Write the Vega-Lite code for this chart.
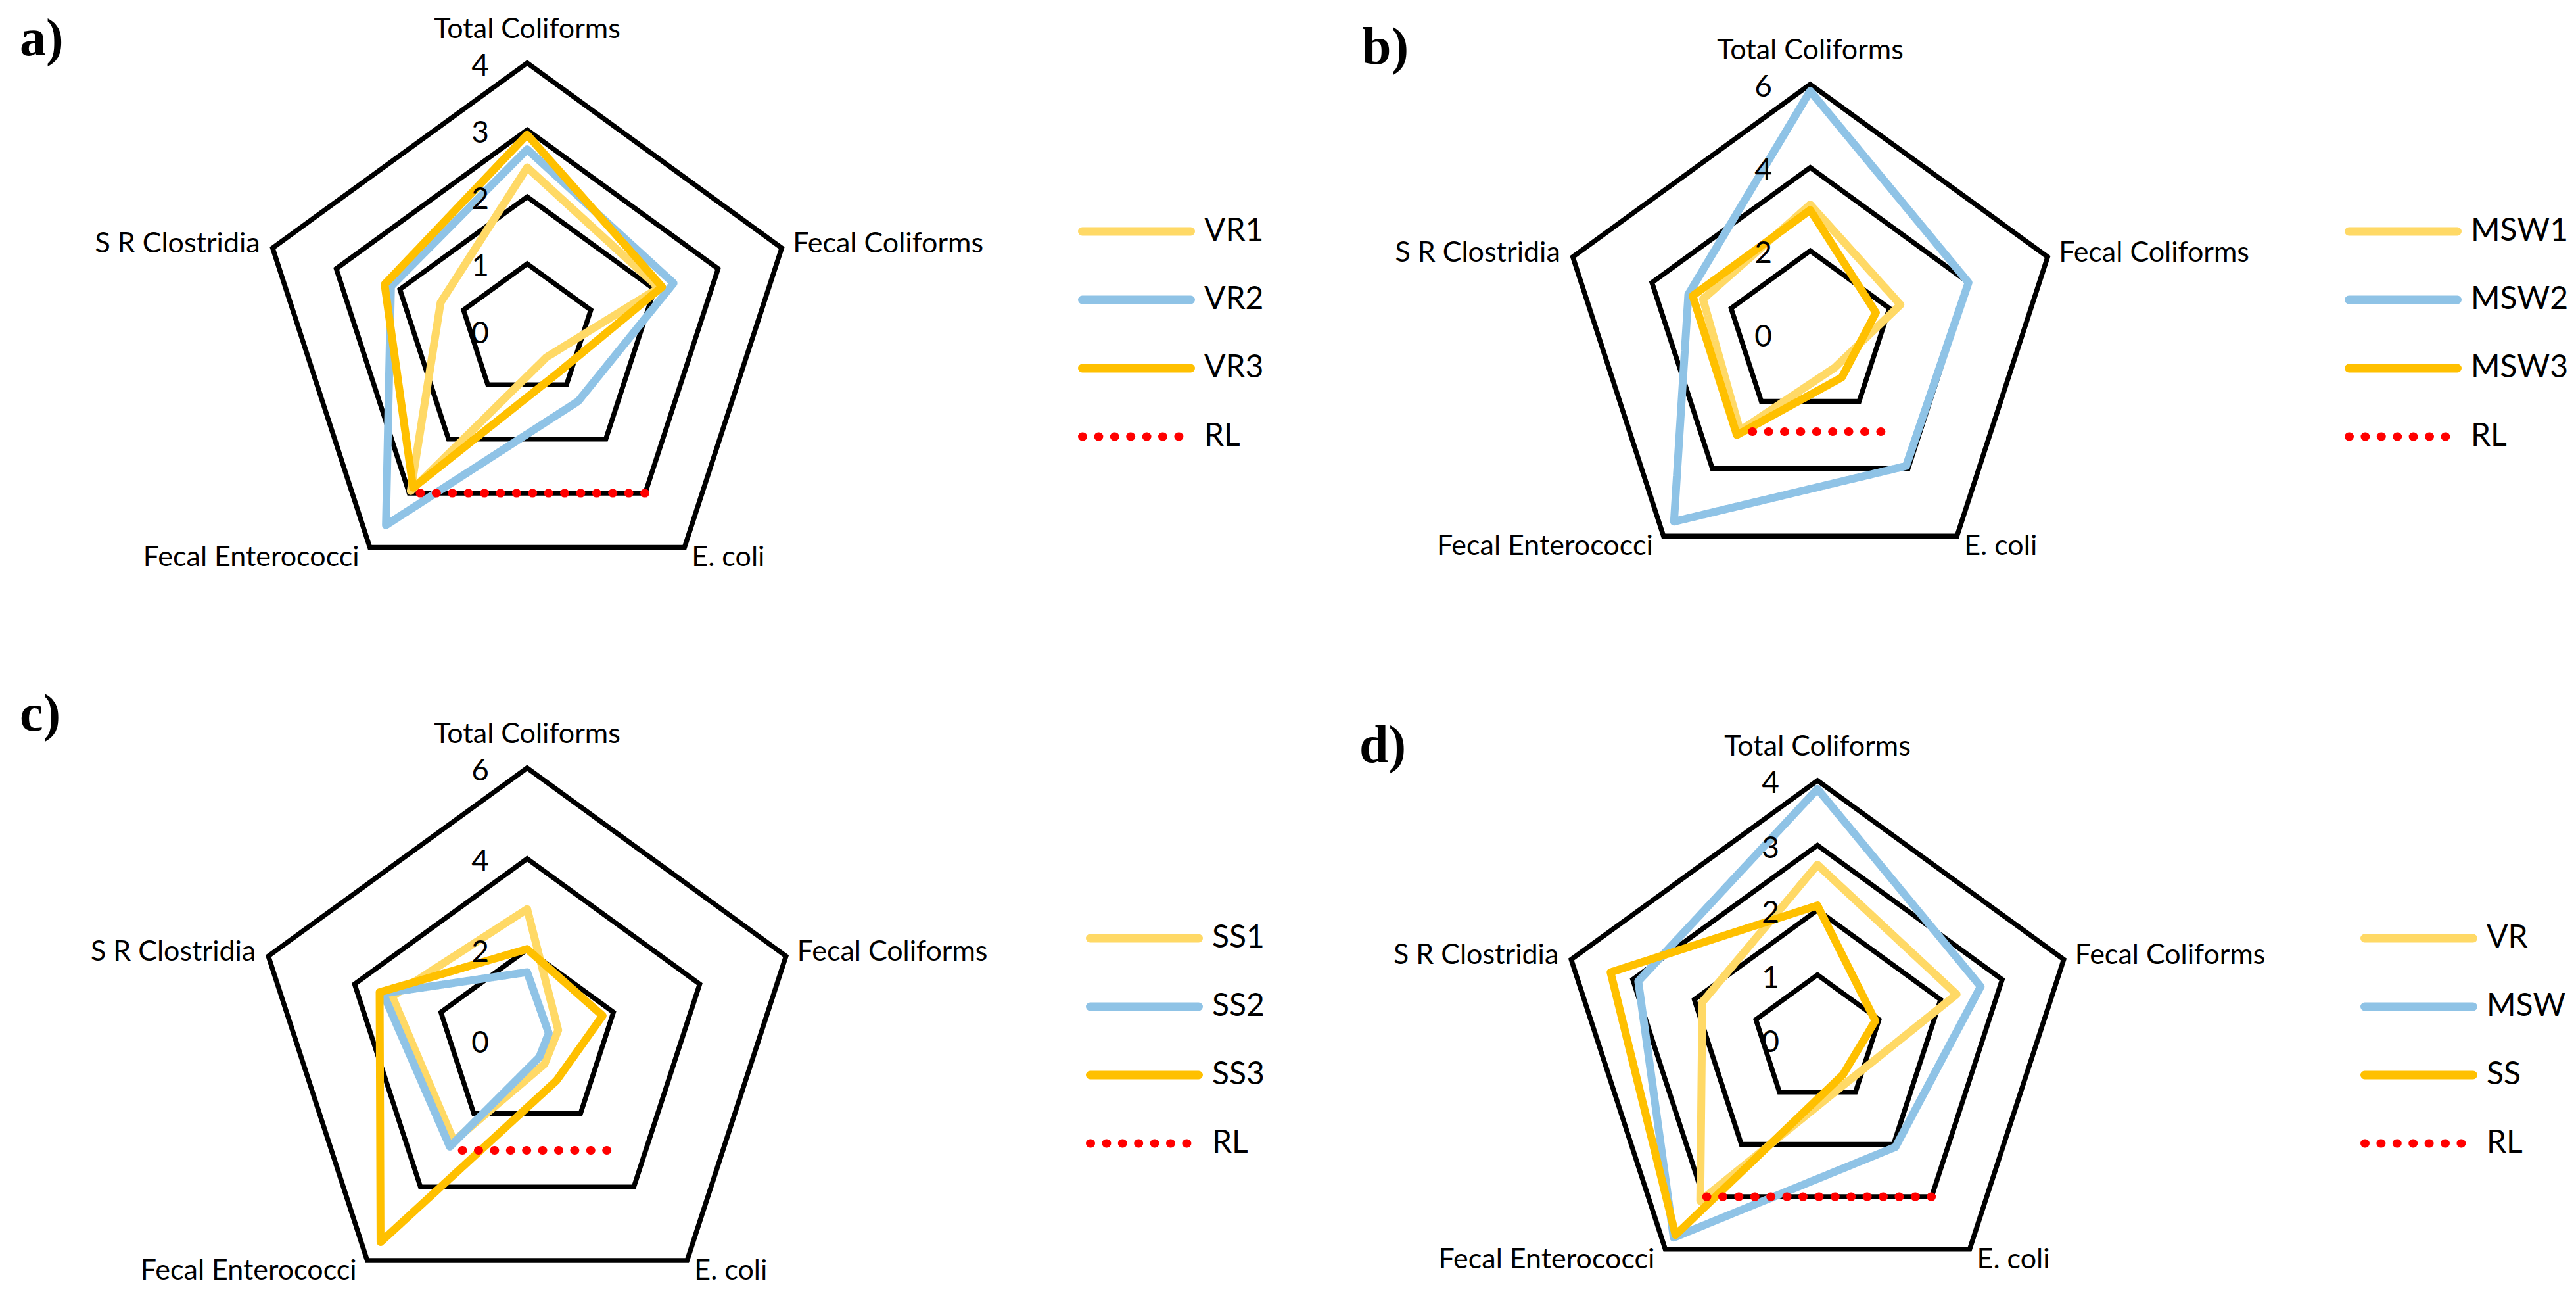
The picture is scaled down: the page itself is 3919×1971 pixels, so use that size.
{
  "$schema": "https://vega.github.io/schema/vega-lite/v6.json",
  "padding": 0,
  "spacing": 0,
  "columns": 2,
  "bounds": "flush",
  "config": {
    "view": {"stroke": null},
    "font": "Lato",
    "legend": {
      "symbolType": "stroke",
      "symbolSize": 27225,
      "symbolStrokeWidth": 13,
      "labelFontSize": 48,
      "labelFont": "Lato",
      "labelColor": "#000000",
      "labelOffset": 14,
      "clipHeight": 48,
      "rowPadding": 56,
      "padding": 0
    }
  },
  "datasets": {
    "grid": [
      {"v": 1, "cat": "Total Coliforms"}, {"v": 1, "cat": "Fecal Coliforms"}, {"v": 1, "cat": "E. coli"}, {"v": 1, "cat": "Fecal Enterococci"}, {"v": 1, "cat": "S R Clostridia"},
      {"v": 2, "cat": "Total Coliforms"}, {"v": 2, "cat": "Fecal Coliforms"}, {"v": 2, "cat": "E. coli"}, {"v": 2, "cat": "Fecal Enterococci"}, {"v": 2, "cat": "S R Clostridia"},
      {"v": 3, "cat": "Total Coliforms"}, {"v": 3, "cat": "Fecal Coliforms"}, {"v": 3, "cat": "E. coli"}, {"v": 3, "cat": "Fecal Enterococci"}, {"v": 3, "cat": "S R Clostridia"},
      {"v": 4, "cat": "Total Coliforms"}, {"v": 4, "cat": "Fecal Coliforms"}, {"v": 4, "cat": "E. coli"}, {"v": 4, "cat": "Fecal Enterococci"}, {"v": 4, "cat": "S R Clostridia"},
      {"v": 6, "cat": "Total Coliforms"}, {"v": 6, "cat": "Fecal Coliforms"}, {"v": 6, "cat": "E. coli"}, {"v": 6, "cat": "Fecal Enterococci"}, {"v": 6, "cat": "S R Clostridia"}
    ],
    "ticks": [
      {"v": 0, "cat": "Total Coliforms"}, {"v": 1, "cat": "Total Coliforms"}, {"v": 2, "cat": "Total Coliforms"}, {"v": 3, "cat": "Total Coliforms"}, {"v": 4, "cat": "Total Coliforms"}, {"v": 6, "cat": "Total Coliforms"}
    ],
    "cats": [
      {"cat": "Total Coliforms"}, {"cat": "Fecal Coliforms"}, {"cat": "E. coli"}, {"cat": "Fecal Enterococci"}, {"cat": "S R Clostridia"}
    ],
    "a": [
      {"s": "VR1", "cat": "Total Coliforms", "v": 2.44}, {"s": "VR1", "cat": "Fecal Coliforms", "v": 2.07}, {"s": "VR1", "cat": "E. coli", "v": 0.49}, {"s": "VR1", "cat": "Fecal Enterococci", "v": 2.96}, {"s": "VR1", "cat": "S R Clostridia", "v": 1.36},
      {"s": "VR2", "cat": "Total Coliforms", "v": 2.71}, {"s": "VR2", "cat": "Fecal Coliforms", "v": 2.30}, {"s": "VR2", "cat": "E. coli", "v": 1.30}, {"s": "VR2", "cat": "Fecal Enterococci", "v": 3.59}, {"s": "VR2", "cat": "S R Clostridia", "v": 2.14},
      {"s": "VR3", "cat": "Total Coliforms", "v": 2.93}, {"s": "VR3", "cat": "Fecal Coliforms", "v": 2.12}, {"s": "VR3", "cat": "E. coli", "v": 0.78}, {"s": "VR3", "cat": "Fecal Enterococci", "v": 2.90}, {"s": "VR3", "cat": "S R Clostridia", "v": 2.24},
      {"s": "RL", "cat": "E. coli", "v": 3}, {"s": "RL", "cat": "Fecal Enterococci", "v": 3}
    ],
    "b": [
      {"s": "MSW1", "cat": "Total Coliforms", "v": 3.11}, {"s": "MSW1", "cat": "Fecal Coliforms", "v": 2.28}, {"s": "MSW1", "cat": "E. coli", "v": 1.0}, {"s": "MSW1", "cat": "Fecal Enterococci", "v": 2.87}, {"s": "MSW1", "cat": "S R Clostridia", "v": 2.71},
      {"s": "MSW2", "cat": "Total Coliforms", "v": 5.84}, {"s": "MSW2", "cat": "Fecal Coliforms", "v": 4.0}, {"s": "MSW2", "cat": "E. coli", "v": 3.92}, {"s": "MSW2", "cat": "Fecal Enterococci", "v": 5.57}, {"s": "MSW2", "cat": "S R Clostridia", "v": 3.08},
      {"s": "MSW3", "cat": "Total Coliforms", "v": 2.98}, {"s": "MSW3", "cat": "Fecal Coliforms", "v": 1.66}, {"s": "MSW3", "cat": "E. coli", "v": 1.29}, {"s": "MSW3", "cat": "Fecal Enterococci", "v": 3.0}, {"s": "MSW3", "cat": "S R Clostridia", "v": 2.97},
      {"s": "RL", "cat": "E. coli", "v": 2.9}, {"s": "RL", "cat": "Fecal Enterococci", "v": 2.9}
    ],
    "c": [
      {"s": "SS1", "cat": "Total Coliforms", "v": 2.89}, {"s": "SS1", "cat": "Fecal Coliforms", "v": 0.72}, {"s": "SS1", "cat": "E. coli", "v": 0.65}, {"s": "SS1", "cat": "Fecal Enterococci", "v": 2.75}, {"s": "SS1", "cat": "S R Clostridia", "v": 3.13},
      {"s": "SS2", "cat": "Total Coliforms", "v": 1.50}, {"s": "SS2", "cat": "Fecal Coliforms", "v": 0.5}, {"s": "SS2", "cat": "E. coli", "v": 0.46}, {"s": "SS2", "cat": "Fecal Enterococci", "v": 2.9}, {"s": "SS2", "cat": "S R Clostridia", "v": 3.34},
      {"s": "SS3", "cat": "Total Coliforms", "v": 2.01}, {"s": "SS3", "cat": "Fecal Coliforms", "v": 1.75}, {"s": "SS3", "cat": "E. coli", "v": 1.1}, {"s": "SS3", "cat": "Fecal Enterococci", "v": 5.5}, {"s": "SS3", "cat": "S R Clostridia", "v": 3.42},
      {"s": "RL", "cat": "E. coli", "v": 3}, {"s": "RL", "cat": "Fecal Enterococci", "v": 3}
    ],
    "d": [
      {"s": "VR", "cat": "Total Coliforms", "v": 2.70}, {"s": "VR", "cat": "Fecal Coliforms", "v": 2.26}, {"s": "VR", "cat": "E. coli", "v": 0.8}, {"s": "VR", "cat": "Fecal Enterococci", "v": 3.08}, {"s": "VR", "cat": "S R Clostridia", "v": 1.87},
      {"s": "MSW", "cat": "Total Coliforms", "v": 3.87}, {"s": "MSW", "cat": "Fecal Coliforms", "v": 2.65}, {"s": "MSW", "cat": "E. coli", "v": 2.05}, {"s": "MSW", "cat": "Fecal Enterococci", "v": 3.78}, {"s": "MSW", "cat": "S R Clostridia", "v": 2.91},
      {"s": "SS", "cat": "Total Coliforms", "v": 2.07}, {"s": "SS", "cat": "Fecal Coliforms", "v": 0.94}, {"s": "SS", "cat": "E. coli", "v": 0.67}, {"s": "SS", "cat": "Fecal Enterococci", "v": 3.73}, {"s": "SS", "cat": "S R Clostridia", "v": 3.36},
      {"s": "RL", "cat": "E. coli", "v": 3}, {"s": "RL", "cat": "Fecal Enterococci", "v": 3}
    ]
  },
  "resolve": {
    "scale": {"x": "independent", "y": "independent", "color": "independent", "strokeDash": "independent"},
    "legend": {"color": "independent", "strokeDash": "independent"}
  },
  "concat": [
    {
      "width": 1959, "height": 985,
      "title": {"text": "a)", "anchor": "start", "frame": "group", "orient": "top", "offset": 0, "baseline": "alphabetic", "dx": 30, "dy": 164, "font": "Liberation Serif", "fontSize": 80, "fontWeight": "bold", "color": "#000000"},
      "layer": [
        {
          "data": {"name": "grid"},
          "transform": [
            {"filter": "datum.v <= 4"},
            {"calculate": "indexof(['Total Coliforms','Fecal Coliforms','E. coli','Fecal Enterococci','S R Clostridia'], datum.cat)", "as": "k"},
            {"calculate": "datum.v*cos(PI/2-datum.k*2*PI/5)", "as": "px"},
            {"calculate": "datum.v*sin(PI/2-datum.k*2*PI/5)", "as": "py"}
          ],
          "mark": {"type": "line", "interpolate": "linear-closed", "stroke": "#000000", "strokeWidth": 7.5, "strokeJoin": "miter"},
          "encoding": {
            "x": {"field": "px", "type": "quantitative", "scale": {"domain": [-7.878, 11.365], "nice": false, "zero": false}, "axis": null},
            "y": {"field": "py", "type": "quantitative", "scale": {"domain": [-4.735, 4.941], "nice": false, "zero": false}, "axis": null},
            "detail": {"field": "v", "type": "nominal"},
            "order": {"field": "k", "type": "quantitative"}
          }
        },
        {
          "data": {"name": "a"},
          "transform": [
            {"filter": "datum.s != 'RL'"},
            {"calculate": "indexof(['Total Coliforms','Fecal Coliforms','E. coli','Fecal Enterococci','S R Clostridia'], datum.cat)", "as": "k"},
            {"calculate": "datum.v*cos(PI/2-datum.k*2*PI/5)", "as": "px"},
            {"calculate": "datum.v*sin(PI/2-datum.k*2*PI/5)", "as": "py"}
          ],
          "mark": {"type": "line", "interpolate": "linear-closed", "strokeWidth": 12, "strokeJoin": "round"},
          "encoding": {
            "x": {"field": "px", "type": "quantitative", "scale": {"domain": [-7.878, 11.365], "nice": false, "zero": false}, "axis": null},
            "y": {"field": "py", "type": "quantitative", "scale": {"domain": [-4.735, 4.941], "nice": false, "zero": false}, "axis": null},
            "color": {"field": "s", "type": "nominal", "scale": {"domain": ["VR1", "VR2", "VR3", "RL"], "range": ["#FFD966", "#8FC3E6", "#FFC000", "#FF0000"]}, "legend": {"title": null, "orient": "none", "legendX": 1640, "legendY": 328, "encode": {"symbols": {"update": {"strokeCap": {"value": "round"}}}}}},
            "strokeDash": {"field": "s", "type": "nominal", "scale": {"domain": ["VR1", "VR2", "VR3", "RL"], "range": [[1, 0], [1, 0], [1, 0], [1, 23.4]]}, "legend": {"title": null, "orient": "none", "legendX": 1640, "legendY": 328, "encode": {"symbols": {"update": {"strokeCap": {"value": "round"}}}}}},
            "order": {"field": "k", "type": "quantitative"}
          }
        },
        {
          "data": {"name": "a"},
          "transform": [
            {"filter": "datum.s == 'RL'"},
            {"calculate": "indexof(['Total Coliforms','Fecal Coliforms','E. coli','Fecal Enterococci','S R Clostridia'], datum.cat)", "as": "k"},
            {"calculate": "datum.v*cos(PI/2-datum.k*2*PI/5)", "as": "px"},
            {"calculate": "datum.v*sin(PI/2-datum.k*2*PI/5)", "as": "py"}
          ],
          "mark": {"type": "line", "strokeWidth": 13, "strokeCap": "round"},
          "encoding": {
            "x": {"field": "px", "type": "quantitative", "scale": {"domain": [-7.878, 11.365], "nice": false, "zero": false}, "axis": null},
            "y": {"field": "py", "type": "quantitative", "scale": {"domain": [-4.735, 4.941], "nice": false, "zero": false}, "axis": null},
            "color": {"field": "s", "type": "nominal", "scale": {"domain": ["VR1", "VR2", "VR3", "RL"], "range": ["#FFD966", "#8FC3E6", "#FFC000", "#FF0000"]}, "legend": {"title": null, "orient": "none", "legendX": 1640, "legendY": 328, "encode": {"symbols": {"update": {"strokeCap": {"value": "round"}}}}}},
            "strokeDash": {"field": "s", "type": "nominal", "scale": {"domain": ["VR1", "VR2", "VR3", "RL"], "range": [[1, 0], [1, 0], [1, 0], [1, 23.4]]}, "legend": {"title": null, "orient": "none", "legendX": 1640, "legendY": 328, "encode": {"symbols": {"update": {"strokeCap": {"value": "round"}}}}}},
            "order": {"field": "k", "type": "quantitative"}
          }
        },
        {
          "data": {"name": "cats"},
          "transform": [
            {"calculate": "4", "as": "v"},
            {"calculate": "indexof(['Total Coliforms','Fecal Coliforms','E. coli','Fecal Enterococci','S R Clostridia'], datum.cat)", "as": "k"},
            {"calculate": "datum.v*cos(PI/2-datum.k*2*PI/5)", "as": "px"},
            {"calculate": "datum.v*sin(PI/2-datum.k*2*PI/5)", "as": "py"}
          ],
          "mark": {
            "type": "text", "fontSize": 43, "font": "Lato", "color": "#000000",
            "align": {"expr": "datum.k == 0 ? 'center' : (datum.k <= 2 ? 'left' : 'right')"},
            "baseline": {"expr": "(datum.k == 1 || datum.k == 4) ? 'middle' : 'alphabetic'"},
            "dx": {"expr": "datum.k == 0 ? 0 : datum.k == 1 ? 17 : datum.k == 2 ? 11 : datum.k == 3 ? -16 : -19"},
            "dy": {"expr": "datum.k == 0 ? -38 : (datum.k == 1 || datum.k == 4) ? -6 : 29"}
          },
          "encoding": {
            "x": {"field": "px", "type": "quantitative", "scale": {"domain": [-7.878, 11.365], "nice": false, "zero": false}, "axis": null},
            "y": {"field": "py", "type": "quantitative", "scale": {"domain": [-4.735, 4.941], "nice": false, "zero": false}, "axis": null},
            "text": {"field": "cat", "type": "nominal"}
          }
        },
        {
          "data": {"name": "ticks"},
          "transform": [
            {"filter": "datum.v <= 4"},
            {"calculate": "indexof(['Total Coliforms','Fecal Coliforms','E. coli','Fecal Enterococci','S R Clostridia'], datum.cat)", "as": "k"},
            {"calculate": "datum.v*cos(PI/2-datum.k*2*PI/5)", "as": "px"},
            {"calculate": "datum.v*sin(PI/2-datum.k*2*PI/5)", "as": "py"}
          ],
          "mark": {"type": "text", "align": "right", "baseline": "middle", "dx": -58, "dy": 5, "fontSize": 46, "font": "Lato", "color": "#000000"},
          "encoding": {
            "x": {"field": "px", "type": "quantitative", "scale": {"domain": [-7.878, 11.365], "nice": false, "zero": false}, "axis": null},
            "y": {"field": "py", "type": "quantitative", "scale": {"domain": [-4.735, 4.941], "nice": false, "zero": false}, "axis": null},
            "text": {"field": "v", "type": "quantitative"}
          }
        }
      ]
    },
    {
      "width": 1959, "height": 985,
      "title": {"text": "b)", "anchor": "start", "frame": "group", "orient": "top", "offset": 0, "baseline": "alphabetic", "dx": 113, "dy": 177, "font": "Liberation Serif", "fontSize": 80, "fontWeight": "bold", "color": "#000000"},
      "layer": [
        {
          "data": {"name": "grid"},
          "transform": [
            {"filter": "datum.v == 2 || datum.v == 4 || datum.v == 6"},
            {"calculate": "indexof(['Total Coliforms','Fecal Coliforms','E. coli','Fecal Enterococci','S R Clostridia'], datum.cat)", "as": "k"},
            {"calculate": "datum.v*cos(PI/2-datum.k*2*PI/5)", "as": "px"},
            {"calculate": "datum.v*sin(PI/2-datum.k*2*PI/5)", "as": "py"}
          ],
          "mark": {"type": "line", "interpolate": "linear-closed", "stroke": "#000000", "strokeWidth": 7.5, "strokeJoin": "miter"},
          "encoding": {
            "x": {"field": "px", "type": "quantitative", "scale": {"domain": [-12.559, 18.389], "nice": false, "zero": false}, "axis": null},
            "y": {"field": "py", "type": "quantitative", "scale": {"domain": [-7.536, 8.025], "nice": false, "zero": false}, "axis": null},
            "detail": {"field": "v", "type": "nominal"},
            "order": {"field": "k", "type": "quantitative"}
          }
        },
        {
          "data": {"name": "b"},
          "transform": [
            {"filter": "datum.s != 'RL'"},
            {"calculate": "indexof(['Total Coliforms','Fecal Coliforms','E. coli','Fecal Enterococci','S R Clostridia'], datum.cat)", "as": "k"},
            {"calculate": "datum.v*cos(PI/2-datum.k*2*PI/5)", "as": "px"},
            {"calculate": "datum.v*sin(PI/2-datum.k*2*PI/5)", "as": "py"}
          ],
          "mark": {"type": "line", "interpolate": "linear-closed", "strokeWidth": 12, "strokeJoin": "round"},
          "encoding": {
            "x": {"field": "px", "type": "quantitative", "scale": {"domain": [-12.559, 18.389], "nice": false, "zero": false}, "axis": null},
            "y": {"field": "py", "type": "quantitative", "scale": {"domain": [-7.536, 8.025], "nice": false, "zero": false}, "axis": null},
            "color": {"field": "s", "type": "nominal", "scale": {"domain": ["MSW1", "MSW2", "MSW3", "RL"], "range": ["#FFD966", "#8FC3E6", "#FFC000", "#FF0000"]}, "legend": {"title": null, "orient": "none", "legendX": 1608, "legendY": 328, "encode": {"symbols": {"update": {"strokeCap": {"value": "round"}}}}}},
            "strokeDash": {"field": "s", "type": "nominal", "scale": {"domain": ["MSW1", "MSW2", "MSW3", "RL"], "range": [[1, 0], [1, 0], [1, 0], [1, 23.4]]}, "legend": {"title": null, "orient": "none", "legendX": 1608, "legendY": 328, "encode": {"symbols": {"update": {"strokeCap": {"value": "round"}}}}}},
            "order": {"field": "k", "type": "quantitative"}
          }
        },
        {
          "data": {"name": "b"},
          "transform": [
            {"filter": "datum.s == 'RL'"},
            {"calculate": "indexof(['Total Coliforms','Fecal Coliforms','E. coli','Fecal Enterococci','S R Clostridia'], datum.cat)", "as": "k"},
            {"calculate": "datum.v*cos(PI/2-datum.k*2*PI/5)", "as": "px"},
            {"calculate": "datum.v*sin(PI/2-datum.k*2*PI/5)", "as": "py"}
          ],
          "mark": {"type": "line", "strokeWidth": 13, "strokeCap": "round"},
          "encoding": {
            "x": {"field": "px", "type": "quantitative", "scale": {"domain": [-12.559, 18.389], "nice": false, "zero": false}, "axis": null},
            "y": {"field": "py", "type": "quantitative", "scale": {"domain": [-7.536, 8.025], "nice": false, "zero": false}, "axis": null},
            "color": {"field": "s", "type": "nominal", "scale": {"domain": ["MSW1", "MSW2", "MSW3", "RL"], "range": ["#FFD966", "#8FC3E6", "#FFC000", "#FF0000"]}, "legend": {"title": null, "orient": "none", "legendX": 1608, "legendY": 328, "encode": {"symbols": {"update": {"strokeCap": {"value": "round"}}}}}},
            "strokeDash": {"field": "s", "type": "nominal", "scale": {"domain": ["MSW1", "MSW2", "MSW3", "RL"], "range": [[1, 0], [1, 0], [1, 0], [1, 23.4]]}, "legend": {"title": null, "orient": "none", "legendX": 1608, "legendY": 328, "encode": {"symbols": {"update": {"strokeCap": {"value": "round"}}}}}},
            "order": {"field": "k", "type": "quantitative"}
          }
        },
        {
          "data": {"name": "cats"},
          "transform": [
            {"calculate": "6", "as": "v"},
            {"calculate": "indexof(['Total Coliforms','Fecal Coliforms','E. coli','Fecal Enterococci','S R Clostridia'], datum.cat)", "as": "k"},
            {"calculate": "datum.v*cos(PI/2-datum.k*2*PI/5)", "as": "px"},
            {"calculate": "datum.v*sin(PI/2-datum.k*2*PI/5)", "as": "py"}
          ],
          "mark": {
            "type": "text", "fontSize": 43, "font": "Lato", "color": "#000000",
            "align": {"expr": "datum.k == 0 ? 'center' : (datum.k <= 2 ? 'left' : 'right')"},
            "baseline": {"expr": "(datum.k == 1 || datum.k == 4) ? 'middle' : 'alphabetic'"},
            "dx": {"expr": "datum.k == 0 ? 0 : datum.k == 1 ? 17 : datum.k == 2 ? 11 : datum.k == 3 ? -16 : -19"},
            "dy": {"expr": "datum.k == 0 ? -38 : (datum.k == 1 || datum.k == 4) ? -6 : 29"}
          },
          "encoding": {
            "x": {"field": "px", "type": "quantitative", "scale": {"domain": [-12.559, 18.389], "nice": false, "zero": false}, "axis": null},
            "y": {"field": "py", "type": "quantitative", "scale": {"domain": [-7.536, 8.025], "nice": false, "zero": false}, "axis": null},
            "text": {"field": "cat", "type": "nominal"}
          }
        },
        {
          "data": {"name": "ticks"},
          "transform": [
            {"filter": "datum.v == 0 || datum.v == 2 || datum.v == 4 || datum.v == 6"},
            {"calculate": "indexof(['Total Coliforms','Fecal Coliforms','E. coli','Fecal Enterococci','S R Clostridia'], datum.cat)", "as": "k"},
            {"calculate": "datum.v*cos(PI/2-datum.k*2*PI/5)", "as": "px"},
            {"calculate": "datum.v*sin(PI/2-datum.k*2*PI/5)", "as": "py"}
          ],
          "mark": {"type": "text", "align": "right", "baseline": "middle", "dx": -58, "dy": 5, "fontSize": 46, "font": "Lato", "color": "#000000"},
          "encoding": {
            "x": {"field": "px", "type": "quantitative", "scale": {"domain": [-12.559, 18.389], "nice": false, "zero": false}, "axis": null},
            "y": {"field": "py", "type": "quantitative", "scale": {"domain": [-7.536, 8.025], "nice": false, "zero": false}, "axis": null},
            "text": {"field": "v", "type": "quantitative"}
          }
        }
      ]
    },
    {
      "width": 1959, "height": 985,
      "title": {"text": "c)", "anchor": "start", "frame": "group", "orient": "top", "offset": 0, "baseline": "alphabetic", "dx": 30, "dy": 206, "font": "Liberation Serif", "fontSize": 80, "fontWeight": "bold", "color": "#000000"},
      "layer": [
        {
          "data": {"name": "grid"},
          "transform": [
            {"filter": "datum.v == 2 || datum.v == 4 || datum.v == 6"},
            {"calculate": "indexof(['Total Coliforms','Fecal Coliforms','E. coli','Fecal Enterococci','S R Clostridia'], datum.cat)", "as": "k"},
            {"calculate": "datum.v*cos(PI/2-datum.k*2*PI/5)", "as": "px"},
            {"calculate": "datum.v*sin(PI/2-datum.k*2*PI/5)", "as": "py"}
          ],
          "mark": {"type": "line", "interpolate": "linear-closed", "stroke": "#000000", "strokeWidth": 7.5, "strokeJoin": "miter"},
          "encoding": {
            "x": {"field": "px", "type": "quantitative", "scale": {"domain": [-11.623, 16.768], "nice": false, "zero": false}, "axis": null},
            "y": {"field": "py", "type": "quantitative", "scale": {"domain": [-5.623, 8.652], "nice": false, "zero": false}, "axis": null},
            "detail": {"field": "v", "type": "nominal"},
            "order": {"field": "k", "type": "quantitative"}
          }
        },
        {
          "data": {"name": "c"},
          "transform": [
            {"filter": "datum.s != 'RL'"},
            {"calculate": "indexof(['Total Coliforms','Fecal Coliforms','E. coli','Fecal Enterococci','S R Clostridia'], datum.cat)", "as": "k"},
            {"calculate": "datum.v*cos(PI/2-datum.k*2*PI/5)", "as": "px"},
            {"calculate": "datum.v*sin(PI/2-datum.k*2*PI/5)", "as": "py"}
          ],
          "mark": {"type": "line", "interpolate": "linear-closed", "strokeWidth": 12, "strokeJoin": "round"},
          "encoding": {
            "x": {"field": "px", "type": "quantitative", "scale": {"domain": [-11.623, 16.768], "nice": false, "zero": false}, "axis": null},
            "y": {"field": "py", "type": "quantitative", "scale": {"domain": [-5.623, 8.652], "nice": false, "zero": false}, "axis": null},
            "color": {"field": "s", "type": "nominal", "scale": {"domain": ["SS1", "SS2", "SS3", "RL"], "range": ["#FFD966", "#8FC3E6", "#FFC000", "#FF0000"]}, "legend": {"title": null, "orient": "none", "legendX": 1652, "legendY": 418, "encode": {"symbols": {"update": {"strokeCap": {"value": "round"}}}}}},
            "strokeDash": {"field": "s", "type": "nominal", "scale": {"domain": ["SS1", "SS2", "SS3", "RL"], "range": [[1, 0], [1, 0], [1, 0], [1, 23.4]]}, "legend": {"title": null, "orient": "none", "legendX": 1652, "legendY": 418, "encode": {"symbols": {"update": {"strokeCap": {"value": "round"}}}}}},
            "order": {"field": "k", "type": "quantitative"}
          }
        },
        {
          "data": {"name": "c"},
          "transform": [
            {"filter": "datum.s == 'RL'"},
            {"calculate": "indexof(['Total Coliforms','Fecal Coliforms','E. coli','Fecal Enterococci','S R Clostridia'], datum.cat)", "as": "k"},
            {"calculate": "datum.v*cos(PI/2-datum.k*2*PI/5)", "as": "px"},
            {"calculate": "datum.v*sin(PI/2-datum.k*2*PI/5)", "as": "py"}
          ],
          "mark": {"type": "line", "strokeWidth": 13, "strokeCap": "round"},
          "encoding": {
            "x": {"field": "px", "type": "quantitative", "scale": {"domain": [-11.623, 16.768], "nice": false, "zero": false}, "axis": null},
            "y": {"field": "py", "type": "quantitative", "scale": {"domain": [-5.623, 8.652], "nice": false, "zero": false}, "axis": null},
            "color": {"field": "s", "type": "nominal", "scale": {"domain": ["SS1", "SS2", "SS3", "RL"], "range": ["#FFD966", "#8FC3E6", "#FFC000", "#FF0000"]}, "legend": {"title": null, "orient": "none", "legendX": 1652, "legendY": 418, "encode": {"symbols": {"update": {"strokeCap": {"value": "round"}}}}}},
            "strokeDash": {"field": "s", "type": "nominal", "scale": {"domain": ["SS1", "SS2", "SS3", "RL"], "range": [[1, 0], [1, 0], [1, 0], [1, 23.4]]}, "legend": {"title": null, "orient": "none", "legendX": 1652, "legendY": 418, "encode": {"symbols": {"update": {"strokeCap": {"value": "round"}}}}}},
            "order": {"field": "k", "type": "quantitative"}
          }
        },
        {
          "data": {"name": "cats"},
          "transform": [
            {"calculate": "6", "as": "v"},
            {"calculate": "indexof(['Total Coliforms','Fecal Coliforms','E. coli','Fecal Enterococci','S R Clostridia'], datum.cat)", "as": "k"},
            {"calculate": "datum.v*cos(PI/2-datum.k*2*PI/5)", "as": "px"},
            {"calculate": "datum.v*sin(PI/2-datum.k*2*PI/5)", "as": "py"}
          ],
          "mark": {
            "type": "text", "fontSize": 43, "font": "Lato", "color": "#000000",
            "align": {"expr": "datum.k == 0 ? 'center' : (datum.k <= 2 ? 'left' : 'right')"},
            "baseline": {"expr": "(datum.k == 1 || datum.k == 4) ? 'middle' : 'alphabetic'"},
            "dx": {"expr": "datum.k == 0 ? 0 : datum.k == 1 ? 17 : datum.k == 2 ? 11 : datum.k == 3 ? -16 : -19"},
            "dy": {"expr": "datum.k == 0 ? -38 : (datum.k == 1 || datum.k == 4) ? -6 : 29"}
          },
          "encoding": {
            "x": {"field": "px", "type": "quantitative", "scale": {"domain": [-11.623, 16.768], "nice": false, "zero": false}, "axis": null},
            "y": {"field": "py", "type": "quantitative", "scale": {"domain": [-5.623, 8.652], "nice": false, "zero": false}, "axis": null},
            "text": {"field": "cat", "type": "nominal"}
          }
        },
        {
          "data": {"name": "ticks"},
          "transform": [
            {"filter": "datum.v == 0 || datum.v == 2 || datum.v == 4 || datum.v == 6"},
            {"calculate": "indexof(['Total Coliforms','Fecal Coliforms','E. coli','Fecal Enterococci','S R Clostridia'], datum.cat)", "as": "k"},
            {"calculate": "datum.v*cos(PI/2-datum.k*2*PI/5)", "as": "px"},
            {"calculate": "datum.v*sin(PI/2-datum.k*2*PI/5)", "as": "py"}
          ],
          "mark": {"type": "text", "align": "right", "baseline": "middle", "dx": -58, "dy": 5, "fontSize": 46, "font": "Lato", "color": "#000000"},
          "encoding": {
            "x": {"field": "px", "type": "quantitative", "scale": {"domain": [-11.623, 16.768], "nice": false, "zero": false}, "axis": null},
            "y": {"field": "py", "type": "quantitative", "scale": {"domain": [-5.623, 8.652], "nice": false, "zero": false}, "axis": null},
            "text": {"field": "v", "type": "quantitative"}
          }
        }
      ]
    },
    {
      "width": 1959, "height": 985,
      "title": {"text": "d)", "anchor": "start", "frame": "group", "orient": "top", "offset": 0, "baseline": "alphabetic", "dx": 109, "dy": 254, "font": "Liberation Serif", "fontSize": 80, "fontWeight": "bold", "color": "#000000"},
      "layer": [
        {
          "data": {"name": "grid"},
          "transform": [
            {"filter": "datum.v <= 4"},
            {"calculate": "indexof(['Total Coliforms','Fecal Coliforms','E. coli','Fecal Enterococci','S R Clostridia'], datum.cat)", "as": "k"},
            {"calculate": "datum.v*cos(PI/2-datum.k*2*PI/5)", "as": "px"},
            {"calculate": "datum.v*sin(PI/2-datum.k*2*PI/5)", "as": "py"}
          ],
          "mark": {"type": "line", "interpolate": "linear-closed", "stroke": "#000000", "strokeWidth": 7.5, "strokeJoin": "miter"},
          "encoding": {
            "x": {"field": "px", "type": "quantitative", "scale": {"domain": [-8.183, 11.706], "nice": false, "zero": false}, "axis": null},
            "y": {"field": "py", "type": "quantitative", "scale": {"domain": [-3.949, 6.051], "nice": false, "zero": false}, "axis": null},
            "detail": {"field": "v", "type": "nominal"},
            "order": {"field": "k", "type": "quantitative"}
          }
        },
        {
          "data": {"name": "d"},
          "transform": [
            {"filter": "datum.s != 'RL'"},
            {"calculate": "indexof(['Total Coliforms','Fecal Coliforms','E. coli','Fecal Enterococci','S R Clostridia'], datum.cat)", "as": "k"},
            {"calculate": "datum.v*cos(PI/2-datum.k*2*PI/5)", "as": "px"},
            {"calculate": "datum.v*sin(PI/2-datum.k*2*PI/5)", "as": "py"}
          ],
          "mark": {"type": "line", "interpolate": "linear-closed", "strokeWidth": 12, "strokeJoin": "round"},
          "encoding": {
            "x": {"field": "px", "type": "quantitative", "scale": {"domain": [-8.183, 11.706], "nice": false, "zero": false}, "axis": null},
            "y": {"field": "py", "type": "quantitative", "scale": {"domain": [-3.949, 6.051], "nice": false, "zero": false}, "axis": null},
            "color": {"field": "s", "type": "nominal", "scale": {"domain": ["VR", "MSW", "SS", "RL"], "range": ["#FFD966", "#8FC3E6", "#FFC000", "#FF0000"]}, "legend": {"title": null, "orient": "none", "legendX": 1632, "legendY": 418, "encode": {"symbols": {"update": {"strokeCap": {"value": "round"}}}}}},
            "strokeDash": {"field": "s", "type": "nominal", "scale": {"domain": ["VR", "MSW", "SS", "RL"], "range": [[1, 0], [1, 0], [1, 0], [1, 23.4]]}, "legend": {"title": null, "orient": "none", "legendX": 1632, "legendY": 418, "encode": {"symbols": {"update": {"strokeCap": {"value": "round"}}}}}},
            "order": {"field": "k", "type": "quantitative"}
          }
        },
        {
          "data": {"name": "d"},
          "transform": [
            {"filter": "datum.s == 'RL'"},
            {"calculate": "indexof(['Total Coliforms','Fecal Coliforms','E. coli','Fecal Enterococci','S R Clostridia'], datum.cat)", "as": "k"},
            {"calculate": "datum.v*cos(PI/2-datum.k*2*PI/5)", "as": "px"},
            {"calculate": "datum.v*sin(PI/2-datum.k*2*PI/5)", "as": "py"}
          ],
          "mark": {"type": "line", "strokeWidth": 13, "strokeCap": "round"},
          "encoding": {
            "x": {"field": "px", "type": "quantitative", "scale": {"domain": [-8.183, 11.706], "nice": false, "zero": false}, "axis": null},
            "y": {"field": "py", "type": "quantitative", "scale": {"domain": [-3.949, 6.051], "nice": false, "zero": false}, "axis": null},
            "color": {"field": "s", "type": "nominal", "scale": {"domain": ["VR", "MSW", "SS", "RL"], "range": ["#FFD966", "#8FC3E6", "#FFC000", "#FF0000"]}, "legend": {"title": null, "orient": "none", "legendX": 1632, "legendY": 418, "encode": {"symbols": {"update": {"strokeCap": {"value": "round"}}}}}},
            "strokeDash": {"field": "s", "type": "nominal", "scale": {"domain": ["VR", "MSW", "SS", "RL"], "range": [[1, 0], [1, 0], [1, 0], [1, 23.4]]}, "legend": {"title": null, "orient": "none", "legendX": 1632, "legendY": 418, "encode": {"symbols": {"update": {"strokeCap": {"value": "round"}}}}}},
            "order": {"field": "k", "type": "quantitative"}
          }
        },
        {
          "data": {"name": "cats"},
          "transform": [
            {"calculate": "4", "as": "v"},
            {"calculate": "indexof(['Total Coliforms','Fecal Coliforms','E. coli','Fecal Enterococci','S R Clostridia'], datum.cat)", "as": "k"},
            {"calculate": "datum.v*cos(PI/2-datum.k*2*PI/5)", "as": "px"},
            {"calculate": "datum.v*sin(PI/2-datum.k*2*PI/5)", "as": "py"}
          ],
          "mark": {
            "type": "text", "fontSize": 43, "font": "Lato", "color": "#000000",
            "align": {"expr": "datum.k == 0 ? 'center' : (datum.k <= 2 ? 'left' : 'right')"},
            "baseline": {"expr": "(datum.k == 1 || datum.k == 4) ? 'middle' : 'alphabetic'"},
            "dx": {"expr": "datum.k == 0 ? 0 : datum.k == 1 ? 17 : datum.k == 2 ? 11 : datum.k == 3 ? -16 : -19"},
            "dy": {"expr": "datum.k == 0 ? -38 : (datum.k == 1 || datum.k == 4) ? -6 : 29"}
          },
          "encoding": {
            "x": {"field": "px", "type": "quantitative", "scale": {"domain": [-8.183, 11.706], "nice": false, "zero": false}, "axis": null},
            "y": {"field": "py", "type": "quantitative", "scale": {"domain": [-3.949, 6.051], "nice": false, "zero": false}, "axis": null},
            "text": {"field": "cat", "type": "nominal"}
          }
        },
        {
          "data": {"name": "ticks"},
          "transform": [
            {"filter": "datum.v <= 4"},
            {"calculate": "indexof(['Total Coliforms','Fecal Coliforms','E. coli','Fecal Enterococci','S R Clostridia'], datum.cat)", "as": "k"},
            {"calculate": "datum.v*cos(PI/2-datum.k*2*PI/5)", "as": "px"},
            {"calculate": "datum.v*sin(PI/2-datum.k*2*PI/5)", "as": "py"}
          ],
          "mark": {"type": "text", "align": "right", "baseline": "middle", "dx": -58, "dy": 5, "fontSize": 46, "font": "Lato", "color": "#000000"},
          "encoding": {
            "x": {"field": "px", "type": "quantitative", "scale": {"domain": [-8.183, 11.706], "nice": false, "zero": false}, "axis": null},
            "y": {"field": "py", "type": "quantitative", "scale": {"domain": [-3.949, 6.051], "nice": false, "zero": false}, "axis": null},
            "text": {"field": "v", "type": "quantitative"}
          }
        }
      ]
    }
  ]
}
